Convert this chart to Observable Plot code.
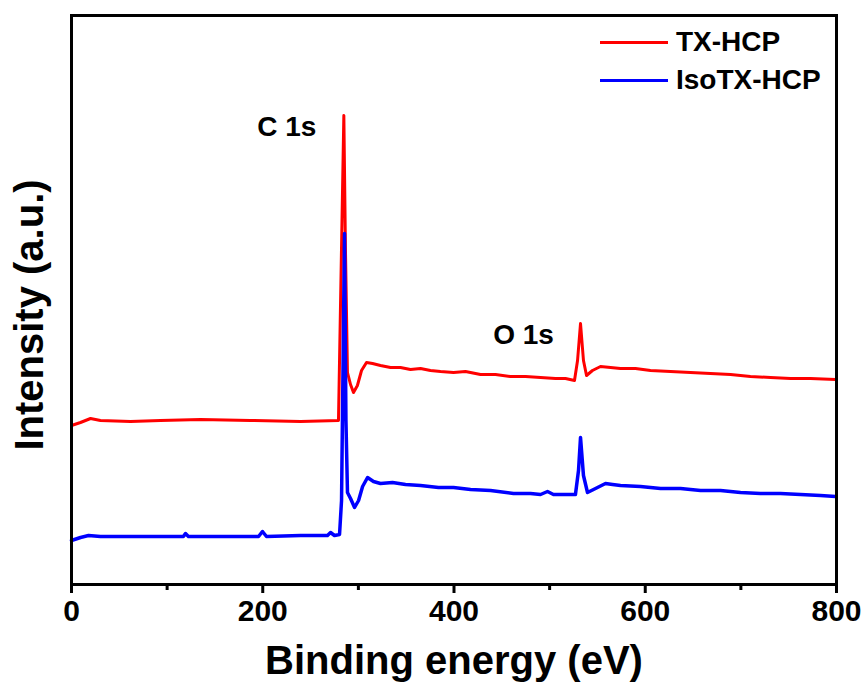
<!DOCTYPE html>
<html><head><meta charset="utf-8">
<script src="https://cdn.jsdelivr.net/npm/d3@7"></script>
<script src="https://cdn.jsdelivr.net/npm/@observablehq/plot@0.6"></script>
<style>
body{margin:0;background:#fff;}
#wrap{position:relative;width:867px;height:692px;font-family:"Liberation Sans",Arial,sans-serif;}
.leg{position:absolute;left:600px;height:34px;line-height:34px;display:flex;align-items:center;font-weight:bold;font-size:28px;color:#000;white-space:nowrap;}
.leg .sw{display:inline-block;width:68px;height:3px;margin-right:8px;}
</style></head><body><div id="wrap"></div>
<script>
// Series
const seriesNames = ["TX-HCP", "IsoTX-HCP"];
const seriesColors = ["#ff0000", "#0000ff"];

// TX-HCP (red)
const txEnergy = [0,9.4,19.9,30.3,61.7,93,135,187,239.5,279.2,282.4,284.8,286.5,288.6,291.8,294.9,299,303.3,308.5,314.8,323.1,333.6,344,354.5,365,375.4,385.9,399.5,412,427.7,443.4,459,474.8,490.5,506.1,516.6,526,529.2,532.3,535.4,538.6,544.8,553.2,563.7,574.1,589.8,605.5,626.4,647.3,668.2,689.2,710,731,752,772.8,799];
const txIntensity = [159,162,166,164,163,164,165,164,163,164,338,469,334,212,200,192,199,214,222,221,219,217,217,215,216,214,213,212,213,210,210,208,208,207,206,206,204,224,261,224,209,214,218,217,216,216,214,213,212,211,210,208,207,206,206,205];

// IsoTX-HCP (blue)
const isoEnergy = [0,9.4,17.8,30.3,61.7,93,117,119.2,122.3,155.8,195.6,199.7,203.9,239.5,267.7,270.9,275,280.3,282.4,285.5,287,288.6,291.8,296,300.2,304.4,309.6,315.8,323.1,335.7,349.3,365,383.8,399.5,417.3,438.2,462.2,480,490.5,497.8,504,516.6,527,530.2,532.3,535.4,539.6,548,558.4,565.8,574.1,595,616,636.9,657.8,678.7,699.6,720.5,741.4,762.4,783.3,799];
const isoIntensity = [44,47,49,48,48,48,48,51,48,48,48,53,48,49,49,52,49,50,84,351,164,92,86,77,84,98,107,103,101,102,100,99,97,97,95,94,91,91,90,93,90,90,90,114,147,109,92,96,101,100,99,98,96,96,94,94,92,91,91,90,89,88];

// Peak labels
const peakNames = ["C 1s", "O 1s"];
const peakEnergy = [284.8, 532.3];
const peakIntensity = [469, 261];

// Axis ticks
const majorTicks = [0, 200, 400, 600, 800];
const minorTicks = [100, 300, 500, 700];
const xTitle = "Binding energy (eV)";
const yTitle = "Intensity (a.u.)";

const tx = txEnergy.map((e, i) => ({energy: e, intensity: txIntensity[i]}));
const iso = isoEnergy.map((e, i) => ({energy: e, intensity: isoIntensity[i]}));
const peaks = peakNames.map((n, i) => ({name: n, energy: peakEnergy[i], intensity: peakIntensity[i]}));

const chart = Plot.plot({
  width: 867,
  height: 692,
  marginLeft: 71,
  marginRight: 31,
  marginTop: 15,
  marginBottom: 108,
  style: {fontFamily: "'Liberation Sans', Arial, sans-serif", fontSize: "30px", fontWeight: "bold", color: "#000", background: "#fff"},
  x: {domain: [0, 800], label: null},
  y: {domain: [0, 569], axis: null},
  marks: [
    Plot.line(tx, {x: "energy", y: "intensity", stroke: seriesColors[0], strokeWidth: 3, strokeLinejoin: "round"}),
    Plot.line(iso, {x: "energy", y: "intensity", stroke: seriesColors[1], strokeWidth: 3.5, strokeLinejoin: "round"}),
    Plot.text(peaks, {x: "energy", y: "intensity", text: "name", dx: -57, dy: 12, fontSize: 28, fontWeight: "bold", fill: "#000"}),
    Plot.frame({strokeWidth: 3, stroke: "#000"}),
    Plot.axisX({ticks: majorTicks, tickSize: 9, tickPadding: 6, tickFormat: d => d, strokeWidth: 3, label: null, fontSize: 30, fontWeight: "bold"}),
    Plot.axisX({ticks: minorTicks, tickSize: 6, tickFormat: () => "", strokeWidth: 3, label: null}),
    Plot.text([xTitle], {frameAnchor: "bottom", text: d => d, dy: 77, fontSize: 40, fontWeight: "bold", lineAnchor: "middle", fill: "#000"}),
    Plot.text([yTitle], {frameAnchor: "left", text: d => d, rotate: -90, dx: -41, dy: 15, fontSize: 40, fontWeight: "bold", lineAnchor: "middle", textAnchor: "middle", fill: "#000"})
  ]
});
const wrap = document.getElementById("wrap");
wrap.appendChild(chart);
seriesNames.forEach((name, i) => {
  const d = document.createElement("div");
  d.className = "leg";
  d.style.top = (25 + 38 * i) + "px";
  d.innerHTML = `<span class="sw" style="background:${seriesColors[i]}"></span><span>${name}</span>`;
  wrap.appendChild(d);
});
</script>
</body></html>
